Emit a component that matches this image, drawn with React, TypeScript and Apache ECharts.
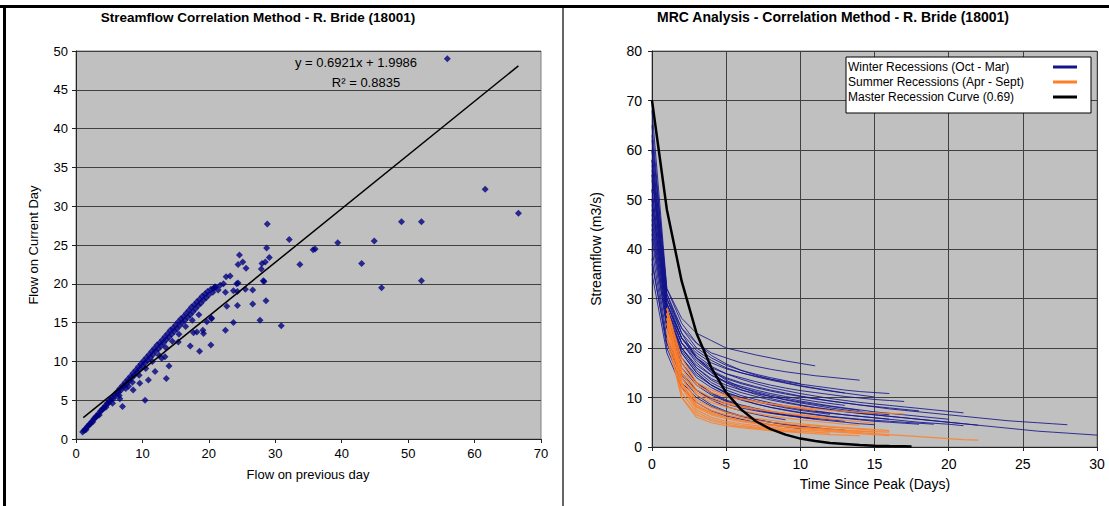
import React, { useEffect, useRef } from "react";
import * as echarts from "echarts";

const FONT = "'Liberation Sans', Arial, sans-serif";

// Left chart: flow on previous day (x) vs flow on current day (y)
const SCATTER_POINTS: [number, number][] = [
  [1.0, 0.9], [1.2, 1.1], [1.4, 1.3], [1.5, 1.2], [1.7, 1.6], [1.9, 1.7], [2.0, 1.9], [2.2, 2.0],
  [2.4, 2.3], [2.5, 2.2], [2.7, 2.6], [2.9, 2.7], [3.0, 2.9], [3.2, 3.0], [3.4, 3.3], [3.5, 3.1],
  [3.7, 3.6], [3.9, 3.7], [4.0, 3.9], [4.2, 4.0], [4.4, 4.3], [4.5, 4.1], [4.7, 4.6], [4.9, 4.6],
  [5.0, 4.9], [5.2, 5.0], [5.4, 5.3], [5.6, 5.2], [5.8, 5.7], [6.0, 5.6], [6.2, 6.1], [6.4, 6.0],
  [6.6, 6.5], [6.8, 6.3], [7.0, 6.9], [7.2, 6.8], [7.4, 7.3], [7.6, 7.1], [7.8, 7.7], [8.0, 7.5],
  [8.2, 8.1], [8.4, 7.9], [8.6, 8.5], [8.8, 8.2], [9.0, 8.9], [9.2, 8.6], [9.4, 9.3], [9.6, 9.0],
  [9.8, 9.7], [10.0, 9.4], [10.2, 10.1], [10.4, 9.8], [10.6, 10.5], [10.8, 10.1], [11.0, 10.9],
  [11.2, 10.5], [11.4, 11.3], [11.6, 10.9], [11.8, 11.7], [12.0, 11.3], [12.2, 12.1], [12.4, 11.6],
  [12.6, 12.4], [12.8, 12.0], [13.0, 12.8], [13.2, 12.4], [13.4, 13.2], [13.6, 12.8], [13.8, 13.6],
  [14.0, 13.1], [14.2, 14.0], [14.4, 13.5], [14.6, 14.3], [14.8, 13.9], [15.0, 14.7], [15.2, 14.2],
  [15.4, 15.1], [15.6, 14.6], [15.8, 15.5], [16.0, 15.0], [16.2, 15.8], [16.4, 15.3], [16.6, 16.2],
  [16.8, 15.7], [17.0, 16.6], [17.2, 16.0], [17.4, 17.0], [17.6, 16.4], [17.8, 17.3], [18.0, 16.8],
  [18.2, 17.7], [18.4, 17.2], [18.6, 18.0], [18.8, 17.5], [19.0, 18.4], [19.2, 17.9], [19.4, 18.7],
  [19.6, 18.2], [19.8, 19.0], [20.0, 18.6], [20.3, 19.3], [20.6, 18.9], [21.0, 19.6], [21.4, 19.2],
  [5.5, 4.6], [6.5, 5.6], [7.5, 6.5], [8.5, 7.3], [9.5, 8.2], [10.5, 9.1], [11.5, 10.0], [12.5, 10.8],
  [13.5, 11.8], [14.5, 12.6], [15.5, 13.5], [16.5, 14.5], [17.5, 15.3], [18.5, 16.0],
  [7.0, 4.2], [6.6, 5.2], [7.9, 6.8], [8.6, 6.3], [9.6, 7.2], [10.4, 5.0], [10.9, 7.6], [11.9, 8.7],
  [12.9, 10.4], [13.4, 10.6], [13.6, 7.8], [14.0, 9.4], [15.4, 12.5], [17.2, 12.0], [17.7, 13.7],
  [18.2, 13.8], [18.6, 11.3], [19.1, 14.0], [19.2, 13.6], [20.3, 12.1], [20.4, 15.5], [19.7, 15.1],
  [20.4, 15.6], [22.5, 14.0], [23.7, 15.0], [27.7, 15.3], [30.9, 14.6], [22.7, 17.1], [24.3, 17.2],
  [26.6, 17.4], [28.6, 17.8], [22.5, 18.9], [24.3, 19.0], [23.7, 19.1], [25.5, 19.3], [26.6, 19.2],
  [24.2, 20.0], [24.4, 20.1], [28.3, 20.3], [28.2, 20.4], [21.7, 19.8], [22.2, 20.0], [20.7, 19.4],
  [20.9, 19.6], [22.6, 20.9], [23.2, 21.0], [27.9, 21.9], [25.6, 22.0], [24.4, 22.5], [25.1, 22.8],
  [28.0, 22.6], [28.5, 22.8], [29.1, 23.4], [24.6, 23.7], [28.7, 24.6], [28.8, 27.7], [32.1, 25.7],
  [33.7, 22.5], [35.7, 24.4], [36.0, 24.5], [39.4, 25.3], [43.0, 22.6], [44.9, 25.5], [46.0, 19.5],
  [49.0, 28.0], [52.0, 28.0], [52.0, 20.4], [55.9, 49.0], [61.6, 32.2], [66.6, 29.1],
];

// Trendline endpoints (y = 0.6921x + 1.9986)
const TREND_LINE: [number, number][] = [
  [1.1, 2.76],
  [66.6, 48.09],
];

// Right chart: recession curves (daily values, day 0 = peak)
const WINTER_RECESSIONS: number[][] = [
  [62, 32, 26, 23, 21.5, 20, 19.3, 18.6, 18, 17.4, 16.9, 16.4],
  [58, 30, 24, 21, 19, 18, 17, 16.3, 15.7, 15.2, 14.8, 14.4, 14.1, 13.8, 13.5],
  [55, 29, 22, 19, 17, 15.8, 15, 14.3, 13.7, 13.2, 12.7, 12.3, 11.9, 11.5, 11.2, 11, 10.8],
  [52, 28, 21, 18, 16, 14.8, 14, 13.2, 12.5, 11.9, 11.4, 11, 10.6, 10.2, 9.9, 9.6, 9.4, 9.2],
  [60, 30, 22, 18, 15.5, 14, 13, 12.2, 11.5, 10.9, 10.3, 9.8, 9.3, 8.9, 8.5, 8.1, 7.7, 7.4, 7.1, 6.8, 6.5, 6.2, 5.9, 5.6, 5.3, 5.1, 4.9, 4.7, 4.5],
  [65, 31, 23, 18, 15, 13, 11.6, 10.6, 9.8, 9.1, 8.5, 8.0, 7.6, 7.2, 6.8, 6.5, 6.2, 5.9, 5.6, 5.3, 5.0, 4.7, 4.4, 4.1, 3.8, 3.5, 3.2, 3.0, 2.8, 2.6, 2.4],
  [50, 27, 20, 16, 13.5, 12, 11, 10.2, 9.5, 8.9, 8.4, 7.9, 7.5, 7.1, 6.8, 6.5, 6.2, 5.9, 5.6, 5.3, 5.0, 4.7, 4.4],
  [48, 26, 19, 15, 12.5, 11, 10, 9.2, 8.6, 8.1, 7.6, 7.2, 6.8, 6.5, 6.2, 5.9, 5.6, 5.3, 5.0, 4.8, 4.6, 4.3],
  [45, 25, 18, 14, 12, 10.5, 9.5, 8.7, 8, 7.5, 7, 6.6, 6.2, 5.9, 5.6, 5.4, 5.2, 5.0, 4.8, 4.6],
  [57, 29, 21, 17, 14.5, 13, 12, 11.2, 10.5, 9.9, 9.3, 8.8, 8.3, 7.9, 7.5, 7.1, 6.8, 6.5, 6.2, 5.9, 5.6],
  [54, 28, 20, 16, 13.8, 12.5, 11.5, 10.8, 10.2, 9.6, 9.1, 8.6, 8.2, 7.8, 7.4],
  [47, 26, 18, 14.5, 12.5, 11, 10, 9.2, 8.5, 7.9, 7.4, 7, 6.6],
  [44, 24, 17, 13, 11, 9.5, 8.5, 7.8, 7.2, 6.7, 6.3],
  [42, 22, 15, 11.5, 9.5, 8.2, 7.3, 6.6, 6.0, 5.5],
  [60, 30, 23, 19.5, 17.5, 16, 15, 14.2, 13.5, 12.9, 12.3, 11.8, 11.3, 10.9, 10.5, 10.1],
  [63, 31, 24, 20, 18, 16.5, 15.5, 14.7, 14, 13.4, 12.8],
  [40, 21, 14, 10.5, 8.5, 7.2, 6.3, 5.6, 5.0, 4.5, 4.1, 3.8],
  [46, 25, 17, 13, 10.8, 9.3, 8.3, 7.5, 6.9, 6.4, 6, 5.6, 5.3, 5, 4.7, 4.5],
  [58, 29, 22, 18, 15.5, 13.5, 12, 11, 10.2, 9.5, 8.9, 8.4, 7.9, 7.5, 7.1, 6.8, 6.5],
  [50, 27, 19, 15, 12.5, 10.8, 9.6, 8.7, 8, 7.4, 6.9, 6.5, 6.1, 5.8, 5.5, 5.2, 5, 4.8, 4.6],
  [55, 29, 22, 18.5, 16.3, 14.8, 13.7, 12.8, 12, 11.4, 10.8, 10.3, 9.8, 9.4, 9, 8.7, 8.4, 8.1, 7.8, 7.5, 7.2, 6.9],
  [38, 20, 13, 10, 8.2, 7, 6.2, 5.5, 5, 4.6, 4.2, 3.9, 3.6, 3.4],
  [52, 27, 20, 16.5, 14.5, 13.2, 12.3, 11.5, 10.8, 10.2, 9.7, 9.2, 8.8, 8.4],
  [35, 19, 12, 9, 7.3, 6.3, 5.6, 5.0, 4.5, 4.1, 3.7],
  [68, 32, 25, 21, 18.5, 16.8, 15.5, 14.5, 13.7, 13, 12.4, 11.9, 11.4, 10.9],
  [49, 27, 19.5, 15.5, 13, 11.5, 10.4, 9.6, 8.9, 8.3, 7.8, 7.3, 6.9, 6.5, 6.2, 5.9, 5.6],
  [43, 24, 16, 12.5, 10.5, 9.2, 8.3, 7.6, 7.0, 6.5, 6.1, 5.8, 5.5, 5.2],
  [56, 28, 21, 17.5, 15.2, 13.8, 12.8, 12, 11.3, 10.7, 10.2, 9.7, 9.3, 8.9, 8.5, 8.2, 7.9, 7.6, 7.3],
  [37, 21, 14.5, 11.5, 9.8, 8.7, 7.9, 7.3, 6.8, 6.4, 6.0, 5.7],
];

const SUMMER_START_DAY = 1;
const SUMMER_RECESSIONS: number[][] = [
  [27, 14, 9.5, 8, 7, 6.3, 5.8, 5.4, 5, 4.7, 4.4, 4.1, 3.9, 3.7, 3.5, 3.3],
  [26, 13, 8.5, 7, 6, 5.3, 4.8, 4.4, 4.1, 3.8, 3.5, 3.3, 3.1, 2.9, 2.7, 2.5, 2.3, 2.1, 1.9, 1.7, 1.5, 1.4],
  [28, 17, 12.5, 11, 10.2, 9.6, 9.1, 8.7, 8.3, 8, 7.7, 7.4, 7.2, 7, 6.9, 6.8, 6.7],
  [25, 12, 7.5, 6, 5.2, 4.7, 4.3, 4, 3.7, 3.5, 3.3, 3.1, 2.9, 2.7, 2.5, 2.3],
  [27, 15, 10.5, 9, 8.1, 7.4, 6.8, 6.3, 5.9, 5.5, 5.2, 4.9, 4.6, 4.4],
  [24, 11, 7, 5.6, 4.9, 4.4, 4, 3.7, 3.4, 3.2, 3.0, 2.8],
  [28, 16, 11.5, 10, 9, 8.3, 7.7, 7.2, 6.8, 6.4, 6, 5.7, 5.4, 5.1, 4.8],
  [26, 14, 9, 7.4, 6.5, 5.9, 5.4, 5, 4.7, 4.4, 4.2, 4, 3.8, 3.6, 3.4],
  [23, 10, 6.5, 5.3, 4.6, 4.1, 3.8, 3.5, 3.2, 3.0],
  [27, 15, 11, 9.5, 8.7, 8.1, 7.6, 7.2, 6.8, 6.5, 6.2, 5.9],
  [25, 13, 8.2, 6.8, 6.0, 5.4, 5, 4.6, 4.3, 4, 3.8, 3.6, 3.4, 3.2, 3.0],
  [28, 18, 13, 11.5, 10.5, 9.8, 9.2, 8.7, 8.2, 7.8, 7.4],
  [22, 10, 6, 4.9, 4.3, 3.9, 3.6, 3.3, 3.1, 2.9, 2.7, 2.5, 2.4, 2.3],
  [26, 12.5, 8, 6.5, 5.7, 5.1, 4.7, 4.4, 4.1, 3.9, 3.7, 3.5, 3.3, 3.2, 3.1, 3.0],
];

const MASTER_CURVE: [number, number][] = [
  [0, 70], [1, 48], [2, 33.5], [3, 23], [4, 16], [5, 11], [6, 7.6], [7, 5.2], [8, 3.6],
  [9, 2.5], [10, 1.7], [11, 1.2], [12, 0.8], [13, 0.6], [14, 0.4], [15, 0.27], [16, 0.19],
  [17, 0.13], [17.5, 0.1],
];

const WINTER_NAME = "Winter Recessions (Oct - Mar)";
const SUMMER_NAME = "Summer Recessions (Apr - Sept)";
const MASTER_NAME = "Master Recession Curve (0.69)";

const LEFT_TITLE = "Streamflow Correlation Method - R. Bride (18001)";
const RIGHT_TITLE = "MRC Analysis - Correlation Method - R. Bride (18001)";

export default function App() {
  const ref = useRef<HTMLDivElement>(null);

  useEffect(() => {
    if (!ref.current) return;
    const chart = echarts.init(ref.current, undefined, { renderer: "svg" });

    const axisLabelLeft = { fontSize: 13, color: "#000", fontFamily: FONT };
    const axisLabelRight = { fontSize: 14, color: "#000", fontFamily: FONT };
    const gridLine = { show: true, lineStyle: { color: "#404040", width: 1 } };
    const axisLine = { show: true, lineStyle: { color: "#222", width: 1 } };
    const axisTick = { show: true, length: 4, lineStyle: { color: "#222" } };

    const series: any[] = [];
    series.push({
      type: "scatter",
      xAxisIndex: 0,
      yAxisIndex: 0,
      symbol: "diamond",
      symbolSize: 7,
      itemStyle: { color: "#000080" },
      data: SCATTER_POINTS,
      z: 3,
    });
    series.push({
      type: "line",
      xAxisIndex: 0,
      yAxisIndex: 0,
      symbol: "none",
      lineStyle: { color: "#000", width: 1.5 },
      data: TREND_LINE,
      z: 4,
    });

    WINTER_RECESSIONS.forEach((arr) => {
      series.push({
        type: "line",
        name: WINTER_NAME,
        xAxisIndex: 1,
        yAxisIndex: 1,
        symbol: "none",
        lineStyle: { color: "#14148c", width: 1, opacity: 0.85 },
        itemStyle: { color: "#14148c" },
        data: arr.map((v, i) => [i, v]),
        z: 3,
      });
    });
    SUMMER_RECESSIONS.forEach((arr) => {
      series.push({
        type: "line",
        name: SUMMER_NAME,
        xAxisIndex: 1,
        yAxisIndex: 1,
        symbol: "none",
        lineStyle: { color: "#FF7F27", width: 1.2, opacity: 0.85 },
        itemStyle: { color: "#FF7F27" },
        data: arr.map((v, i) => [i + SUMMER_START_DAY, v]),
        z: 3,
      });
    });
    series.push({
      type: "line",
      name: MASTER_NAME,
      xAxisIndex: 1,
      yAxisIndex: 1,
      symbol: "none",
      lineStyle: { color: "#000", width: 2.5 },
      itemStyle: { color: "#000" },
      data: MASTER_CURVE,
      z: 5,
    });

    const option: any = {
      animation: false,
      backgroundColor: "#fff",
      textStyle: { fontFamily: FONT },
      grid: [
        {
          left: 76, top: 51, width: 465, height: 388,
          show: true, backgroundColor: "#C0C0C0", borderColor: "#808080", borderWidth: 1,
        },
        {
          left: 652, top: 51, width: 445, height: 396,
          show: true, backgroundColor: "#C0C0C0", borderColor: "#808080", borderWidth: 1,
        },
      ],
      xAxis: [
        {
          type: "value", gridIndex: 0, min: 0, max: 70, interval: 10,
          axisLine, axisTick, splitLine: { show: false },
          axisLabel: { ...axisLabelLeft, margin: 8 },
        },
        {
          type: "value", gridIndex: 1, min: 0, max: 30, interval: 5,
          axisLine, axisTick, splitLine: gridLine,
          axisLabel: { ...axisLabelRight, margin: 10 },
        },
      ],
      yAxis: [
        {
          type: "value", gridIndex: 0, min: 0, max: 50, interval: 5,
          axisLine, axisTick, splitLine: gridLine,
          axisLabel: { ...axisLabelLeft, margin: 8 },
        },
        {
          type: "value", gridIndex: 1, min: 0, max: 80, interval: 10,
          axisLine, axisTick, splitLine: gridLine,
          axisLabel: { ...axisLabelRight, margin: 10 },
        },
      ],
      legend: {
        orient: "vertical",
        left: 846,
        top: 57,
        align: "right",
        selectedMode: false,
        data: [
          { name: WINTER_NAME, icon: "rect", itemStyle: { color: "#14148c" } },
          { name: SUMMER_NAME, icon: "rect", itemStyle: { color: "#FF7F27" } },
          { name: MASTER_NAME, icon: "rect", itemStyle: { color: "#000" } },
        ],
        formatter: (name: string) => `{t|${name}}`,
        itemWidth: 24,
        itemHeight: 3,
        itemGap: 3,
        backgroundColor: "#fff",
        borderColor: "#000",
        borderWidth: 1,
        borderRadius: 0,
        padding: [4, 14, 10, 2],
        textStyle: {
          fontSize: 12,
          color: "#000",
          fontFamily: FONT,
          rich: {
            t: { width: 200, align: "left", fontSize: 12, color: "#000", fontFamily: FONT, lineHeight: 14 },
          },
        },
      },
      graphic: [
        // outer frame
        { type: "rect", shape: { x: 0, y: 5, width: 1109, height: 3 }, style: { fill: "#000" }, silent: true },
        { type: "rect", shape: { x: 3, y: 5, width: 3, height: 501 }, style: { fill: "#000" }, silent: true },
        { type: "rect", shape: { x: 562, y: 8, width: 2, height: 498 }, style: { fill: "#666" }, silent: true },
        // titles
        {
          type: "text", x: 258, y: 17,
          style: { text: LEFT_TITLE, font: `bold 13.5px ${FONT}`, fill: "#000", textAlign: "center", textVerticalAlign: "middle" },
        },
        {
          type: "text", x: 833, y: 17,
          style: { text: RIGHT_TITLE, font: `bold 14px ${FONT}`, fill: "#000", textAlign: "center", textVerticalAlign: "middle" },
        },
        // trendline equation
        {
          type: "text", x: 356, y: 62,
          style: { text: "y = 0.6921x + 1.9986", font: `13px ${FONT}`, fill: "#000", textAlign: "center", textVerticalAlign: "middle" },
        },
        {
          type: "text", x: 366, y: 82,
          style: { text: "R² = 0.8835", font: `13px ${FONT}`, fill: "#000", textAlign: "center", textVerticalAlign: "middle" },
        },
        // axis names
        {
          type: "text", x: 33, y: 245, rotation: Math.PI / 2,
          style: { text: "Flow on Current Day", font: `13px ${FONT}`, fill: "#000", textAlign: "center", textVerticalAlign: "middle" },
        },
        {
          type: "text", x: 308, y: 474,
          style: { text: "Flow on previous day", font: `13px ${FONT}`, fill: "#000", textAlign: "center", textVerticalAlign: "middle" },
        },
        {
          type: "text", x: 596, y: 249, rotation: Math.PI / 2,
          style: { text: "Streamflow (m3/s)", font: `14px ${FONT}`, fill: "#000", textAlign: "center", textVerticalAlign: "middle" },
        },
        {
          type: "text", x: 875, y: 484,
          style: { text: "Time Since Peak (Days)", font: `14px ${FONT}`, fill: "#000", textAlign: "center", textVerticalAlign: "middle" },
        },
      ],
      series,
    };

    chart.setOption(option);
    return () => chart.dispose();
  }, []);

  return (
    <div
      ref={ref}
      style={{ position: "fixed", left: 0, top: 0, width: 1109, height: 506 }}
    />
  );
}
